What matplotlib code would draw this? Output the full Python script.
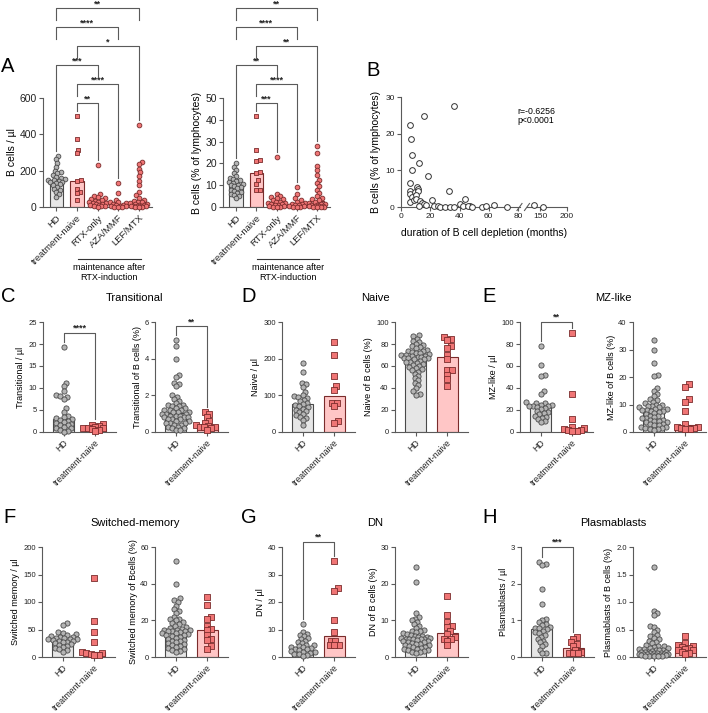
import numpy as np
import matplotlib
matplotlib.use("Agg")
import matplotlib.pyplot as plt

plt.rcParams['font.family'] = ['Liberation Sans', 'DejaVu Sans']

# ---------------- data ----------------
a_labels = ['HD', 'treatment-naive', 'RTX-only', 'AZA/MMF', 'LEF/MTX']
a_stars = ['**', '****', '***', '*', '****', '**']          # B cells / ul, low -> high
a_stars_pct = ['***', '****', '**', '**', '****', '**']     # B cells %, low -> high

bcells_hd = [280, 262, 240, 220, 200, 190, 185, 175, 165, 160, 155, 150, 148,
             145, 140, 135, 130, 125, 120, 110, 100, 95, 85, 70, 55]
bcells_tn = [500, 375, 315, 295, 148, 142, 100, 85, 75, 37]
bcells_rtx = [230, 70, 60, 55, 50, 45, 40, 35, 30, 25, 22, 20, 18, 15, 12, 10, 8, 5, 3, 1]
bcells_aza = [130, 75, 40, 30, 25, 20, 15, 12, 10, 8, 6, 4, 2, 1, 0.5]
bcells_lef = [450, 245, 235, 210, 190, 170, 145, 120, 85, 65, 50, 40, 35, 30, 25,
              20, 18, 15, 12, 10, 8, 6, 5, 4, 3, 2, 1, 0.5]

bpct_hd = [20, 18.5, 17, 15.5, 14, 13.5, 13, 12.5, 12, 11.5, 11, 10.5, 10.2, 10,
           9.5, 9, 8.5, 8, 7.5, 7, 6.5, 6, 5.5, 5, 4]
bpct_tn = [41.7, 26, 21.7, 21.3, 16.1, 15.5, 12.3, 10.7, 8.0, 8.0]
bpct_rtx = [23, 6, 5, 4.5, 4, 3.5, 3, 2.5, 2.2, 2, 1.8, 1.5, 1.2, 1, 0.8, 0.5, 0.3, 0.2, 0.1, 0]
bpct_aza = [9, 6, 4, 3, 2.5, 2, 1.5, 1.2, 1, 0.8, 0.6, 0.4, 0.2, 0.1, 0.05]
bpct_lef = [28, 25, 19, 17, 14.5, 12.5, 11, 9.5, 8, 6.5, 5, 4, 3.5, 3, 2.5, 2, 1.6,
            1.3, 1, 0.8, 0.6, 0.5, 0.4, 0.3, 0.2, 0.1, 0.05, 0]

# panel B: duration of depletion (months) vs B cells (%)
dep_months = [6.4, 6.6, 7.5, 7.5, 15.5, 12.3, 18.2, 36.4, 6.4, 6.4, 6.4, 9.3, 10.9,
              11.6, 11.4, 7.5, 6.4, 8.6, 10.0, 10.5, 12.7, 14.3, 15.5, 17.3, 12.5,
              21.1, 22.7, 25.0, 26.8, 30.2, 32.5, 33.6, 36.4, 40.0, 42.3, 44.0, 47.3,
              45.6, 48.3, 55.6, 57.9, 63.8, 72.2, 139, 155]
dep_bpct = [22.3, 18.5, 14.3, 10.0, 24.7, 12.1, 8.5, 27.6, 6.5, 4.5, 3.6, 4.1, 5.5,
            5.0, 4.3, 2.7, 1.4, 1.8, 3.2, 2.1, 1.6, 1.2, 0.7, 0.5, 0.3,
            2.0, 0.4, 0.3, 0.0, 0.0, 4.4, 0.0, 0.0, 0.7, 0.3, 2.3, 0.2,
            0.3, 0.0, 0.0, 0.2, 0.5, 0.0, 0.5, 0.0]
corr_text = 'r=-0.6256\np<0.0001'

pair_labels = ['HD', 'treatment-naive']

trans_ul_hd = [19.4, 11.1, 10.4, 9.3, 8.5, 8.2, 8.0, 7.6, 5.4, 4.6, 3.6, 3.4, 3.1, 2.9,
               2.7, 2.5, 2.3, 2.1, 1.9, 1.7, 1.5, 1.2, 1.0, 0.8, 0.5, 0.3, 0.1]
trans_ul_tn = [1.8, 1.6, 1.4, 1.2, 1.0, 0.9, 0.8, 0.6, 0.4, 0.2]
trans_pct_hd = [5.0, 4.7, 4.0, 3.1, 3.0, 2.7, 2.6, 2.5, 2.0, 1.9, 1.8, 1.7, 1.6, 1.5,
                1.5, 1.4, 1.4, 1.3, 1.3, 1.2, 1.2, 1.2, 1.1, 1.1, 1.1, 1.0, 1.0, 1.0,
                0.9, 0.9, 0.9, 0.8, 0.8, 0.8, 0.7, 0.7, 0.7, 0.6, 0.6, 0.5, 0.5, 0.5,
                0.4, 0.4, 0.3, 0.3, 0.2, 0.2, 0.1, 0.1]
trans_pct_tn = [1.1, 1.0, 0.8, 0.6, 0.5, 0.4, 0.35, 0.3, 0.3, 0.25, 0.2, 0.1]

naive_ul_hd = [188, 165, 135, 130, 122, 110, 100, 97, 95, 92, 88, 84, 80, 76, 73, 70,
               67, 64, 60, 57, 54, 50, 46, 42, 38, 33, 20]
naive_ul_tn = [245, 210, 153, 125, 115, 80, 78, 70, 30, 25]
naive_pct_hd = [88, 87, 85, 83, 82, 80, 79, 78, 77, 76, 75, 74, 74, 73, 72, 72, 71, 70,
                70, 69, 69, 68, 68, 67, 67, 67, 66, 66, 65, 64, 64, 63, 62, 61, 60, 59,
                58, 57, 56, 55, 53, 51, 49, 47, 45, 43, 40, 37, 35, 34]
naive_pct_tn = [86, 85, 84, 78, 76, 70, 66, 56, 56, 52, 48, 42]

mz_ul_hd = [78, 61, 52, 51, 37, 35, 27, 26, 26, 25, 25, 24, 24, 24, 23, 22, 21, 19,
            18, 17, 16, 15, 14, 13, 12, 10, 9]
mz_ul_tn = [90, 35, 12, 5, 4, 2.5, 2, 1.5, 1, 0.8]
mz_pct_hd = [33.5, 30, 25, 20.6, 20.3, 16, 15, 14, 13, 12, 11.5, 11, 10.5, 10, 10, 9.5,
             9.5, 9, 9, 8.5, 8.5, 8, 8, 7.8, 7.6, 7.4, 7, 6.5, 6, 6, 5.5, 5, 5, 4.5,
             4.5, 4, 4, 3.5, 3.5, 3, 3, 2.5, 2.5, 2, 2, 1.5, 1.5, 1.2, 1, 0.8]
mz_pct_tn = [17.5, 16.5, 12, 11, 7.7, 3, 2, 1.8, 1.5, 1.3, 1.2, 1.0]

sw_ul_hd = [61, 59, 45, 44, 42, 40, 38, 37, 36, 35, 34, 33, 33, 32, 31, 30, 29, 28,
            27, 25, 23, 22, 20, 18, 16, 14, 12, 10]
sw_ul_tn = [143, 65, 45, 28, 9, 8, 7, 6, 4, 3]
sw_pct_hd = [52.5, 40, 32, 31, 30, 28, 26, 25, 24, 22, 21, 20.5, 20, 19, 18.5, 18, 17,
             16.5, 16, 15.5, 15, 15, 14.5, 14, 14, 14, 13.5, 13, 13, 12.5, 12, 12,
             11.5, 11, 10.5, 10, 9.5, 9, 8.5, 8, 7.5, 7, 6.5, 6, 5.5, 5, 4.5, 4, 3.5, 3]
sw_pct_tn = [33, 28.5, 22, 21, 17, 15.5, 14.5, 12, 10, 9.5, 6, 4.5]

dn_ul_hd = [12, 9, 8.5, 8, 7.5, 7, 6.5, 6, 5.5, 5, 4.5, 4.2, 4, 3.7, 3.5, 3.2, 3, 2.8,
            2.5, 2.2, 2, 1.8, 1.5, 1.2, 1, 0.8, 0.5]
dn_ul_tn = [35, 25, 24, 13.5, 9.2, 6, 5.8, 4.5, 4.4, 4.3]
dn_pct_hd = [24.5, 20.5, 12, 11, 10.5, 10, 9.5, 9, 8.5, 8, 7.5, 7.2, 7, 6.8, 6.5, 6.2,
             6, 5.8, 5.6, 5.5, 5.4, 5.2, 5.1, 5, 5, 5, 4.9, 4.8, 4.6, 4.5, 4.3, 4.2, 4,
             3.8, 3.6, 3.5, 3.3, 3.2, 3, 2.8, 2.6, 2.5, 2.3, 2.2, 2, 1.8, 1.6, 1.5, 1.3, 1.2]
dn_pct_tn = [16.7, 11.5, 9.5, 8.5, 8.3, 7, 6.2, 5.5, 5, 4.8, 4.5, 3.2]

pb_ul_hd = [2.6, 2.55, 2.52, 1.85, 1.45, 1.05, 1.0, 0.95, 0.9, 0.87, 0.83, 0.8, 0.78,
            0.76, 0.72, 0.68, 0.65, 0.6, 0.55, 0.5, 0.45, 0.4, 0.35, 0.3, 0.2, 0.12, 0.1]
pb_ul_tn = [0.55, 0.5, 0.4, 0.35, 0.3, 0.2, 0.15, 0.12, 0.1, 0.1]
pb_pct_hd = [1.63, 0.84, 0.8, 0.76, 0.57, 0.55, 0.5, 0.45, 0.4, 0.38, 0.35, 0.32, 0.3,
             0.28, 0.25, 0.22, 0.2, 0.2, 0.18, 0.17, 0.16, 0.15, 0.14, 0.13, 0.12, 0.12,
             0.11, 0.1, 0.1, 0.09, 0.09, 0.08, 0.08, 0.07, 0.07, 0.06, 0.06, 0.05, 0.05,
             0.05, 0.04, 0.04, 0.03, 0.03, 0.03, 0.02, 0.02, 0.02, 0.01, 0.01]
pb_pct_tn = [0.38, 0.25, 0.22, 0.2, 0.18, 0.17, 0.15, 0.13, 0.12, 0.1, 0.08, 0.06]

# ---------------- style ----------------
GREY_PT, GREY_EDGE, GREY_BAR = '#b4b4b4', '#4a4a4a', '#e6e6e6'
RED_PT, RED_EDGE, RED_BAR = '#f07575', '#7a2c2c', '#ffc6c6'
AXC = '#5a5a5a'

W, H = 708, 713
fig = plt.figure(figsize=(W / 100, H / 100), dpi=100)


def add_ax(x0, x1, ytop, ybot):
    # pixel box -> figure fraction
    return fig.add_axes([x0 / W, 1 - ybot / H, (x1 - x0) / W, (ybot - ytop) / H])


def style(ax, ymax, step, fs, fmt=None):
    ax.set_ylim(0, ymax)
    ax.set_yticks(np.arange(0, ymax + step / 2, step))
    if fmt:
        ax.set_yticklabels([fmt % v for v in ax.get_yticks()])
    for s in ['top', 'right']:
        ax.spines[s].set_visible(False)
    for s in ['left', 'bottom']:
        ax.spines[s].set_color(AXC)
        ax.spines[s].set_linewidth(0.8)
    ax.tick_params(axis='both', colors=AXC, labelcolor='#222222', length=3,
                   width=0.8, labelsize=fs, pad=1.5)


def swarm(ax, xc, vals, d, maxw):
    # beeswarm layout in pixel space, capped at +-maxw (x units); overlaps when crowded
    pts = ax.transData.transform(np.column_stack([np.full(len(vals), xc), vals]))
    ypx = pts[:, 1]
    unit = ax.transData.transform((1, 0))[0] - ax.transData.transform((0, 0))[0]
    lim = maxw * unit
    grid = np.linspace(-lim, lim, 41)
    offs = np.zeros(len(vals))
    placed = []
    for i in np.argsort(ypx, kind='stable'):
        y = ypx[i]
        near = [(px, py) for px, py in placed if abs(py - y) < d]
        cands = [0.0] + list(grid)
        for px, py in near:
            dx = np.sqrt(d * d - (py - y) ** 2)
            cands += [c for c in (px + dx, px - dx) if abs(c) <= lim]
        best, best_key = 0.0, None
        for c in cands:
            md = min([np.hypot(c - px, y - py) for px, py in near], default=1e9)
            ok = md >= d - 1e-6
            key = (0, abs(c)) if ok else (1, -md)
            if best_key is None or key < best_key:
                best, best_key = c, key
        offs[i] = best
        placed.append((best, y))
    return xc + offs / unit


def draw_groups(ax, groups, labels, size, d, xl_fs, maxw=0.4):
    ax.set_xlim(-0.65, len(groups) - 0.35)
    for i, vals in enumerate(groups):
        vals = np.asarray(vals, float)
        hd = i == 0
        ax.bar(i, np.median(vals), width=0.66, color=GREY_BAR if hd else RED_BAR,
               edgecolor=GREY_EDGE if hd else RED_EDGE, linewidth=0.8, zorder=1)
        xs = swarm(ax, i, vals, d, maxw)
        ax.scatter(xs, vals, s=size, marker='s' if i == 1 else 'o',
                   c=GREY_PT if hd else RED_PT, edgecolors=GREY_EDGE if hd else RED_EDGE,
                   linewidths=0.6, zorder=3, clip_on=False)
    ax.set_xticks(range(len(groups)))
    ax.set_xticklabels(labels, rotation=45, ha='right', rotation_mode='anchor',
                       fontsize=xl_fs)


def px_per_unit(ax):
    return ax.transData.transform((0, 1))[1] - ax.transData.transform((0, 0))[1]


def bracket(ax, i, j, level, bot_i, bot_j, text, fs):
    ax.plot([i, i, j, j], [bot_i, level, level, bot_j], color=AXC, lw=0.8,
            clip_on=False, zorder=4)
    ax.text((i + j) / 2, level, text, ha='center', va='bottom', fontsize=fs,
            fontweight='bold', color='#222222')


def bracket_stack(ax, groups, pairs, stars, ymax, fs):
    # pairs ordered from lowest to highest bracket
    k = px_per_unit(ax)
    levels = [ymax * (0.953 + 0.1743 * n) for n in range(len(pairs))]
    for n, ((i, j), st) in enumerate(zip(pairs, stars)):
        bots = []
        for g in (i, j):
            lower = [m for m in range(n) if g in pairs[m]]
            if lower:
                bots.append(levels[n] - 12 / k)
            else:
                bots.append(max(groups[g]) + 5 / k)
        bracket(ax, i, j, levels[n], bots[0], bots[1], st, fs)


def single_bracket(ax, groups, frac, ymax, text):
    k = px_per_unit(ax)
    lev = frac * ymax
    bracket(ax, 0, 1, lev, max(groups[0]) + 5 / k, max(groups[1]) + 5 / k, text, 6.5)


# ---------------- panel A ----------------
pairs_a = [(1, 2), (1, 3), (0, 2), (1, 4), (0, 3), (0, 4)]

axA1 = add_ax(43, 152, 98, 207)
style(axA1, 600, 200, 7.5)
gA1 = [bcells_hd, bcells_tn, bcells_rtx, bcells_aza, bcells_lef]
draw_groups(axA1, gA1, a_labels, 11.5, 3.8, 6.8)
bracket_stack(axA1, gA1, pairs_a, a_stars, 600, 6.5)
axA1.set_ylabel('B cells / µl', fontsize=7.5, labelpad=2)

axA2 = add_ax(223, 330, 98, 207)
style(axA2, 50, 10, 7.5)
gA2 = [bpct_hd, bpct_tn, bpct_rtx, bpct_aza, bpct_lef]
draw_groups(axA2, gA2, a_labels, 11.5, 3.8, 6.8)
bracket_stack(axA2, gA2, pairs_a, a_stars_pct, 50, 6.5)
axA2.set_ylabel('B cells (% of lymphocytes)', fontsize=7.5, labelpad=2)

for ax in (axA1, axA2):
    tr = matplotlib.transforms.blended_transform_factory(ax.transData, ax.transAxes)
    ax.plot([1.03, 4.12], [-0.477, -0.477], color='#333333', lw=0.8,
            transform=tr, clip_on=False)
    ax.text(2.575, -0.51, 'maintenance after\nRTX-induction', transform=tr,
            ha='center', va='top', fontsize=6.5, linespacing=1.25)

# ---------------- panel B ----------------
axB1 = add_ax(401, 519.5, 97, 207)
axB2 = add_ax(527, 567, 97, 207)
style(axB1, 30, 10, 6)
style(axB2, 30, 10, 6)
axB1.set_xlim(0, 81)
axB2.set_xlim(125, 200)
axB1.set_xticks([0, 20, 40, 60, 80])
axB2.set_xticks([150, 200])
axB2.spines['left'].set_visible(False)
axB2.tick_params(axis='y', left=False, labelleft=False)
m = np.array(dep_months)
p = np.array(dep_bpct)
for ax, sel in ((axB1, m < 100), (axB2, m >= 100)):
    ax.scatter(m[sel], p[sel], s=17, facecolors='white', edgecolors='#333333',
               linewidths=0.7, zorder=3, clip_on=False)
for ax, x, wpx in ((axB1, 1.0, 118.5), (axB2, 0.0, 40)):
    dx, dy = 2.5 / wpx, 3.5 / 110
    ax.plot([x - dx, x + dx], [-dy, dy], color=AXC, lw=0.8, transform=ax.transAxes,
            clip_on=False)
axB1.set_ylabel('B cells (% of lymphocytes)', fontsize=7.5, labelpad=3)
fig.text(484 / W, 1 - 233 / H, 'duration of B cell depletion (months)', ha='center',
         va='center', fontsize=7.5)
fig.text(517 / W, 1 - 116 / H, corr_text, ha='left', va='center', fontsize=6.3,
         linespacing=1.0)

# ---------------- panels C-H ----------------
subsets = [
    # title, cx, ytop, (x0 left, x0 right), left spec, right spec
    ('Transitional', 135, 322, (43, 155),
     (trans_ul_hd, trans_ul_tn, 25, 5, None, 'Transitional / µl', 0.9, '****'),
     (trans_pct_hd, trans_pct_tn, 6, 2, None, 'Transitional of B cells (%)', 0.96, '**')),
    ('Naive', 375, 322, (282, 395),
     (naive_ul_hd, naive_ul_tn, 300, 100, None, 'Naive / µl', None, None),
     (naive_pct_hd, naive_pct_tn, 100, 20, None, 'Naive of B cells (%)', None, None)),
    ('MZ-like', 613, 322, (520, 633),
     (mz_ul_hd, mz_ul_tn, 100, 20, None, 'MZ-like / µl', 1.0, '**'),
     (mz_pct_hd, mz_pct_tn, 40, 10, None, 'MZ-like of B cells (%)', None, None)),
    ('Switched-memory', 135, 547, (42, 155),
     (sw_ul_hd, sw_ul_tn, 200, 50, None, 'Switched memory / µl', None, None),
     (sw_pct_hd, sw_pct_tn, 60, 20, None, 'Switched memory of Bcells (%)', None, None)),
    ('DN', 375, 547, (282, 395),
     (dn_ul_hd, dn_ul_tn, 40, 10, None, 'DN / µl', 1.05, '**'),
     (dn_pct_hd, dn_pct_tn, 30, 10, None, 'DN of B cells (%)', None, None)),
    ('Plasmablasts', 613, 547, (521, 633),
     (pb_ul_hd, pb_ul_tn, 3, 1, None, 'Plasmablasts / µl', 1.0, '***'),
     (pb_pct_hd, pb_pct_tn, 2.0, 0.5, '%.1f', 'Plasmablasts of B cells (%)', None, None)),
]

for title, cx, ytop, x0s, *specs in subsets:
    for x0, (hd, tn, ymax, step, fmt, ylab, frac, st) in zip(x0s, specs):
        ax = add_ax(x0, x0 + 73, ytop, ytop + 110)
        style(ax, ymax, step, 5.5, fmt)
        draw_groups(ax, [hd, tn], pair_labels, 14, 4.2, 6.3, maxw=0.45)
        ax.set_ylabel(ylab, fontsize=6.5, labelpad=2)
        if frac:
            single_bracket(ax, [hd, tn], frac, ymax, st)
    fig.text(cx / W, 1 - (ytop - 24) / H, title, ha='center', va='center', fontsize=8)

# panel letters
for letter, x, y in [('A', 1, 72), ('B', 366, 76), ('C', 1, 302), ('D', 241, 302),
                     ('E', 482, 302), ('F', 3, 523), ('G', 241, 523), ('H', 482, 523)]:
    fig.text(x / W, 1 - y / H, letter, ha='left', va='baseline', fontsize=14.5)

fig.savefig('out.png', dpi=100)
